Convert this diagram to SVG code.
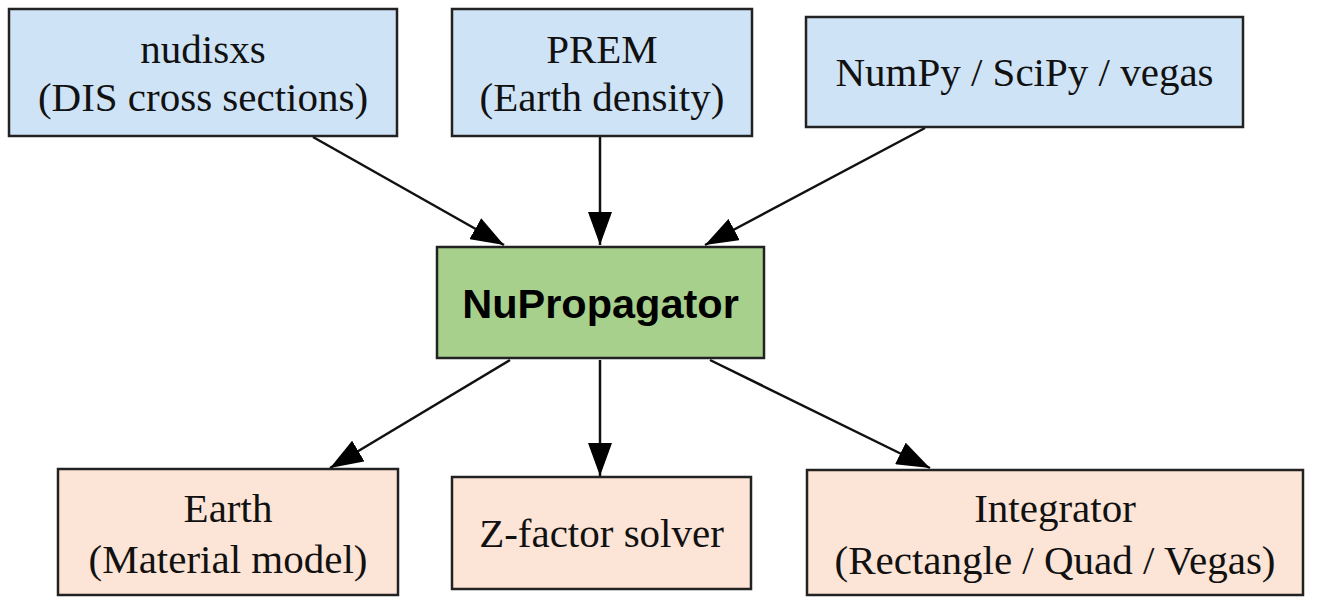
<svg xmlns="http://www.w3.org/2000/svg" width="1318" height="597" viewBox="0 0 1318 597">
<style>
.box{stroke:#222;stroke-width:2.5}
.in{fill:#cfe3f7}
.core{fill:#a8d08d}
.out{fill:#fce4d6}
.t{font-family:"Liberation Serif","Times New Roman",serif;font-size:41px;fill:#111;text-anchor:middle}
.b{font-family:"Liberation Sans",Arial,sans-serif;font-size:41.5px;font-weight:bold;fill:#000;text-anchor:middle}
.edge{stroke:#111;stroke-width:2.5;fill:none;marker-end:url(#arr)}
</style>
<defs>
<marker id="arr" viewBox="0 0 33 24" refX="33" refY="12" markerWidth="33" markerHeight="24" markerUnits="userSpaceOnUse" orient="auto">
<path d="M0,0 L33,12 L0,24 Z" fill="#000"/>
</marker>
</defs>
<g id="connectors">
<line class="edge" x1="313" y1="137" x2="504" y2="245"/>
<line class="edge" x1="600" y1="137" x2="600" y2="245"/>
<line class="edge" x1="925" y1="128" x2="705" y2="245"/>
<line class="edge" x1="510" y1="360" x2="330" y2="468"/>
<line class="edge" x1="600" y1="360" x2="600" y2="476"/>
<line class="edge" x1="710" y1="360" x2="930" y2="468"/>
</g>
<g id="nudisxs">
<rect class="box in" x="9" y="9" width="388" height="127"/>
<text class="t" x="203" y="63">nudisxs</text>
<text class="t" x="203" y="111">(DIS cross sections)</text>
</g>
<g id="prem">
<rect class="box in" x="452" y="9" width="300" height="127"/>
<text class="t" x="602" y="63">PREM</text>
<text class="t" x="602" y="111">(Earth density)</text>
</g>
<g id="numpy">
<rect class="box in" x="806" y="17" width="437" height="110"/>
<text class="t" x="1024.5" y="86">NumPy / SciPy / vegas</text>
</g>
<g id="nupropagator">
<rect class="box core" x="437" y="247" width="327" height="111"/>
<text class="b" x="600.5" y="318">NuPropagator</text>
</g>
<g id="earth">
<rect class="box out" x="58" y="469" width="340" height="126"/>
<text class="t" x="228" y="522">Earth</text>
<text class="t" x="228" y="573">(Material model)</text>
</g>
<g id="zfactor">
<rect class="box out" x="452" y="477" width="299" height="112"/>
<text class="t" x="601.5" y="547">Z-factor solver</text>
</g>
<g id="integrator">
<rect class="box out" x="807" y="470" width="496" height="125"/>
<text class="t" x="1055" y="522">Integrator</text>
<text class="t" x="1055" y="574">(Rectangle / Quad / Vegas)</text>
</g>
</svg>
